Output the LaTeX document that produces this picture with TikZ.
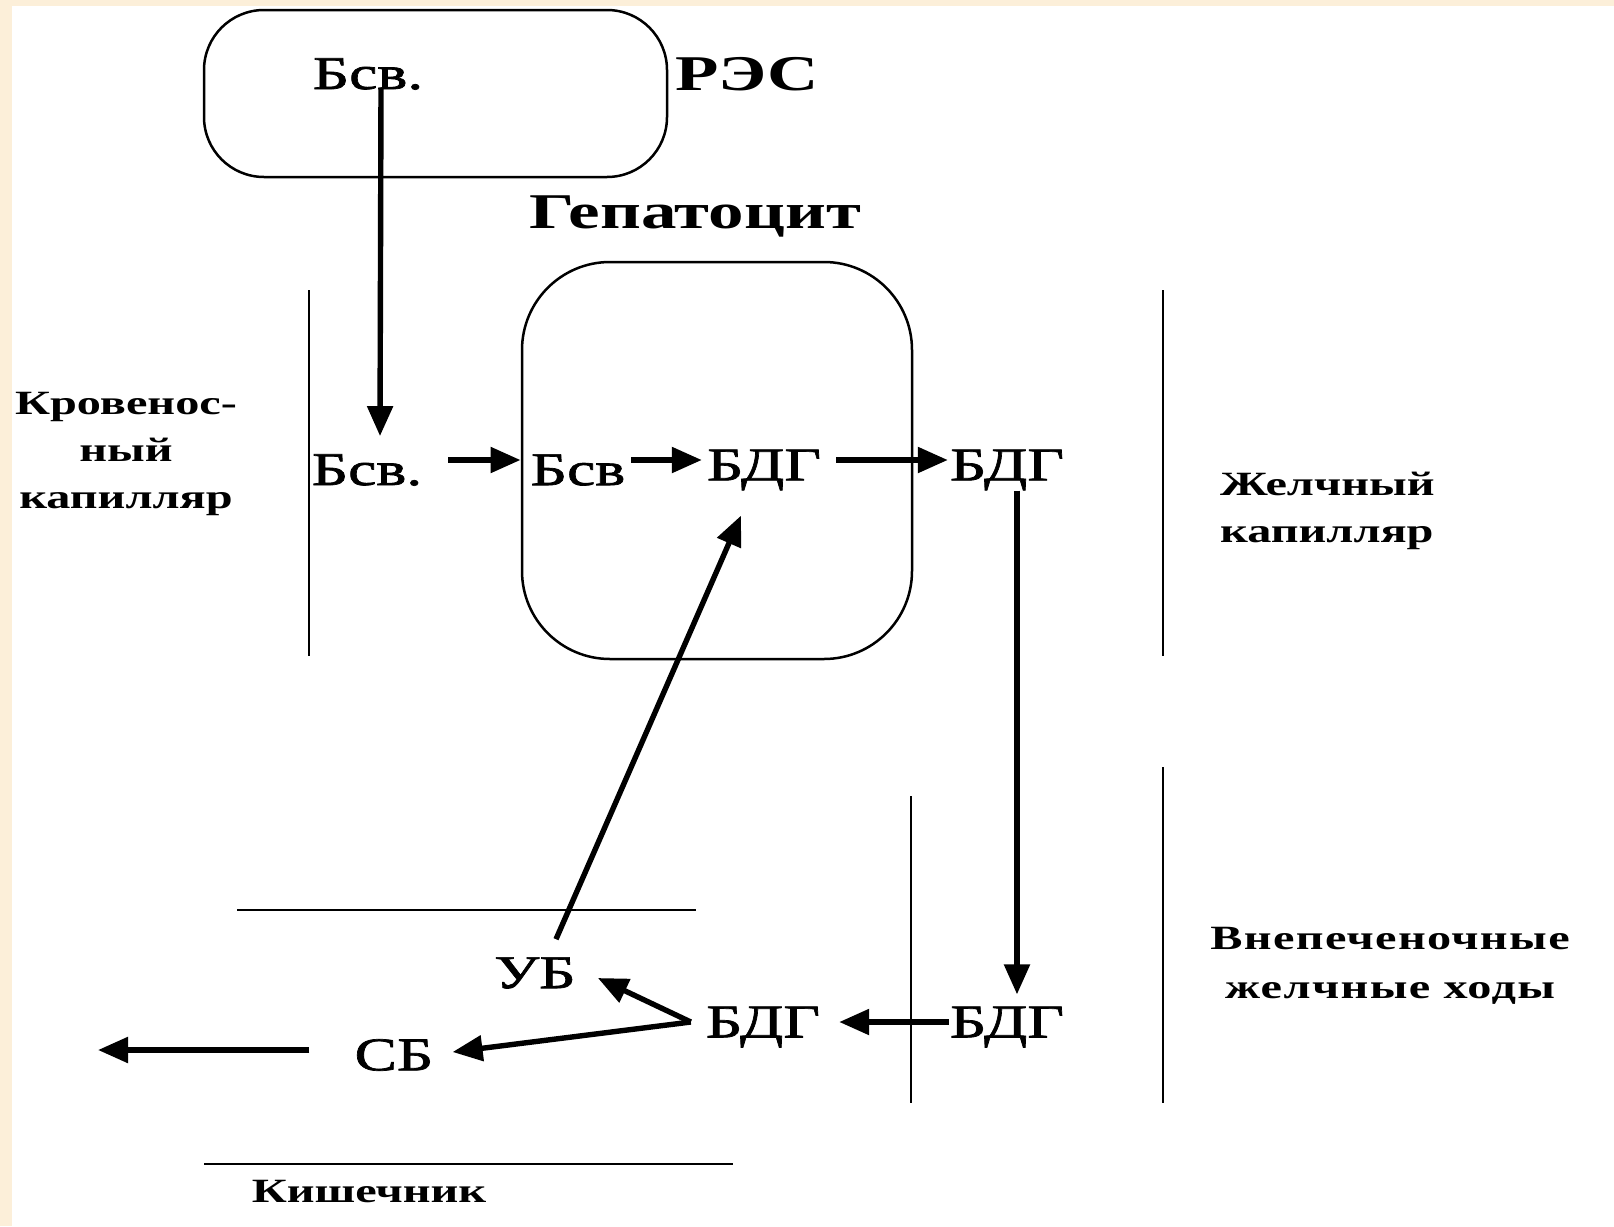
\documentclass[tikz,border=0pt]{standalone}
\usepackage{fontspec}
\setmainfont{Liberation Serif}
\newfontfamily\rw[FakeStretch=1.35,FakeBold=1.5]{Liberation Serif}
\newfontfamily\bw[FakeStretch=1.42]{Liberation Serif}
\newfontfamily\bwl[FakeStretch=1.42,LetterSpace=4]{Liberation Serif}
\usetikzlibrary{arrows.meta}
\definecolor{beige}{HTML}{FCEFD9}
\tikzset{
  lbl/.style={inner sep=0pt, font=\rw\fontsize{47}{47}\selectfont},
  big/.style={inner sep=0pt, font=\bw\bfseries\fontsize{50}{50}\selectfont},
  side/.style={inner sep=0pt, font=\bw\bfseries\fontsize{34}{47}\selectfont, align=center},
  sidel/.style={inner sep=0pt, font=\bwl\bfseries\fontsize{34}{49}\selectfont, align=center},
  arr/.style={line width=5.4pt, -{Triangle[length=30pt,width=25pt]}},
  thin/.style={line width=2.2pt},
  box/.style={draw, line width=2.5pt}
}
\begin{document}
\begin{tikzpicture}[x=1pt,y=-1pt]
\fill[beige] (0,0) rectangle (1614,1226);
\fill[white] (12,6) rectangle (1614,1226);
\useasboundingbox (0,0) rectangle (1614,1226);
% boxes
\draw[box, rounded corners=60pt] (204,10) rectangle (667,177);
\draw[box, rounded corners=88pt] (522,262) rectangle (912,659);
% vertical lines
\draw[thin] (309,290) -- (309,656);
\draw[thin] (1163,290) -- (1163,656);
\draw[thin] (911,796) -- (911,1103);
\draw[thin] (1163,767) -- (1163,1103);
% horizontal lines
\draw[thin] (237,910) -- (696,910);
\draw[thin] (204,1164) -- (733,1164);
% texts
\node[lbl] (b1) at (368,74) {Бсв.};
\node[big] (res) at (747,74) {РЭС};
\node[big] (hep) at (695,216) {Гепатоцит};
\node[lbl] (b2) at (367,470) {Бсв.};
\node[lbl] (b3) at (578,470) {Бсв};
\node[lbl] (d1) at (764,470) {БДГ};
\node[lbl] (d2) at (1007,470) {БДГ};
\node[lbl] (d3) at (1007,1027) {БДГ};
\node[lbl] (d4) at (763,1027) {БДГ};
\node[lbl] (ub) at (535,973) {УБ};
\node[lbl] (sb) at (394,1055) {СБ};
\node[side] (kr) at (126,454) {Кровенос-\\ный\\капилляр};
\node[side, align=left, anchor=west] (zk) at (1220,511) {Желчный\\капилляр};
\node[sidel] (vn) at (1390,966) {Внепеченочные\\желчные ходы};
\node[side] (ki) at (369,1192) {Кишечник};
\coordinate (out) at (98,1050);
% arrows
\draw[arr] ([xshift=13pt,yshift=-14pt]b1.center) -- ([xshift=13pt,yshift=18pt]b2.north);
\draw[arr] ([xshift=26pt,yshift=10pt]b2.east) -- ([xshift=-10pt,yshift=10pt]b3.west);
\draw[arr] ([xshift=6pt,yshift=10pt]b3.east) -- ([xshift=-5pt,yshift=10pt]d1.west);
\draw[arr] ([xshift=15pt,yshift=10pt]d1.east) -- ([xshift=-2pt,yshift=10pt]d2.west);
\draw[arr] ([xshift=10pt]d2.south) -- ([xshift=10pt,yshift=12pt]d3.north);
\draw[arr] ([xshift=-1pt,yshift=5pt]d3.west) -- ([xshift=19pt,yshift=5pt]d4.east);
\draw[arr] ([xshift=-15pt,yshift=5pt]d4.west) -- ([xshift=22pt,yshift=-5pt]ub.east);
\draw[arr] ([xshift=-15pt,yshift=5pt]d4.west) -- ([xshift=19pt,yshift=3pt]sb.east);
\draw[arr] ([xshift=-45pt,yshift=5pt]sb.west) -- (out);
\draw[arr] ([xshift=21pt,yshift=18pt]ub.north) -- ([xshift=-23pt,yshift=-25pt]d1.south);
\end{tikzpicture}
\end{document}
